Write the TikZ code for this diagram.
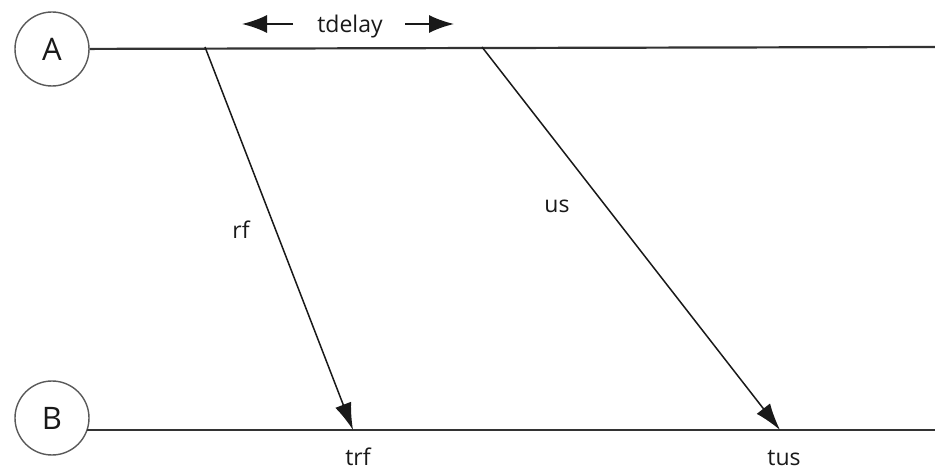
\documentclass[tikz,border=0pt]{standalone}
\usepackage{fontspec}
\setmainfont{Open Sans}
\usetikzlibrary{arrows.meta}
\begin{document}
\begin{tikzpicture}[x=1pt,y=-1pt,
  lbl/.style={font=\fontsize{23}{27}\selectfont, inner sep=0pt, anchor=base, text=black!90},
  proc/.style={draw=black!65, line width=1.4pt, circle, minimum size=74pt, inner sep=0pt, font=\fontsize{31}{35}\selectfont, text=black!90},
  tline/.style={line width=2.2pt, draw=black!80},
  msg/.style={line width=1.5pt, draw=black!90, -{Latex[length=27pt,width=17pt]}},
  dlarr/.style={line width=2pt, draw=black!90, -{Latex[length=25pt,width=18pt]}}]
\useasboundingbox[fill=white] (0,0) rectangle (935,470);
\node[proc] (A) at (52,49) {A};
\node[proc] (B) at (52,418) {B};
\coordinate (Aend) at (935,47);
\coordinate (B1) at (87,430);
\coordinate (Bend) at (935,430);
\draw[tline] (A) -- (Aend);
\draw[tline] (B1) -- (Bend);
\coordinate (rfS) at (205,47);
\coordinate (rfE) at (353,430);
\coordinate (usS) at (482,47);
\coordinate (usE) at (780,430);
\draw[msg] (rfS) -- (rfE);
\draw[msg] (usS) -- (usE);
\node[lbl] (rf) at (241,239) {rf};
\node[lbl] (us) at (557,213) {us};
\node[lbl] (trf) at (358,465) {trf};
\node[lbl] (tus) at (784,465) {tus};
\node[lbl] (td) at (350,33) {tdelay};
\coordinate (d1s) at (293,24);
\coordinate (d1e) at (242,24);
\coordinate (d2s) at (405,24);
\coordinate (d2e) at (454,24);
\draw[dlarr] (d1s) -- (d1e);
\draw[dlarr] (d2s) -- (d2e);
\end{tikzpicture}
\end{document}
